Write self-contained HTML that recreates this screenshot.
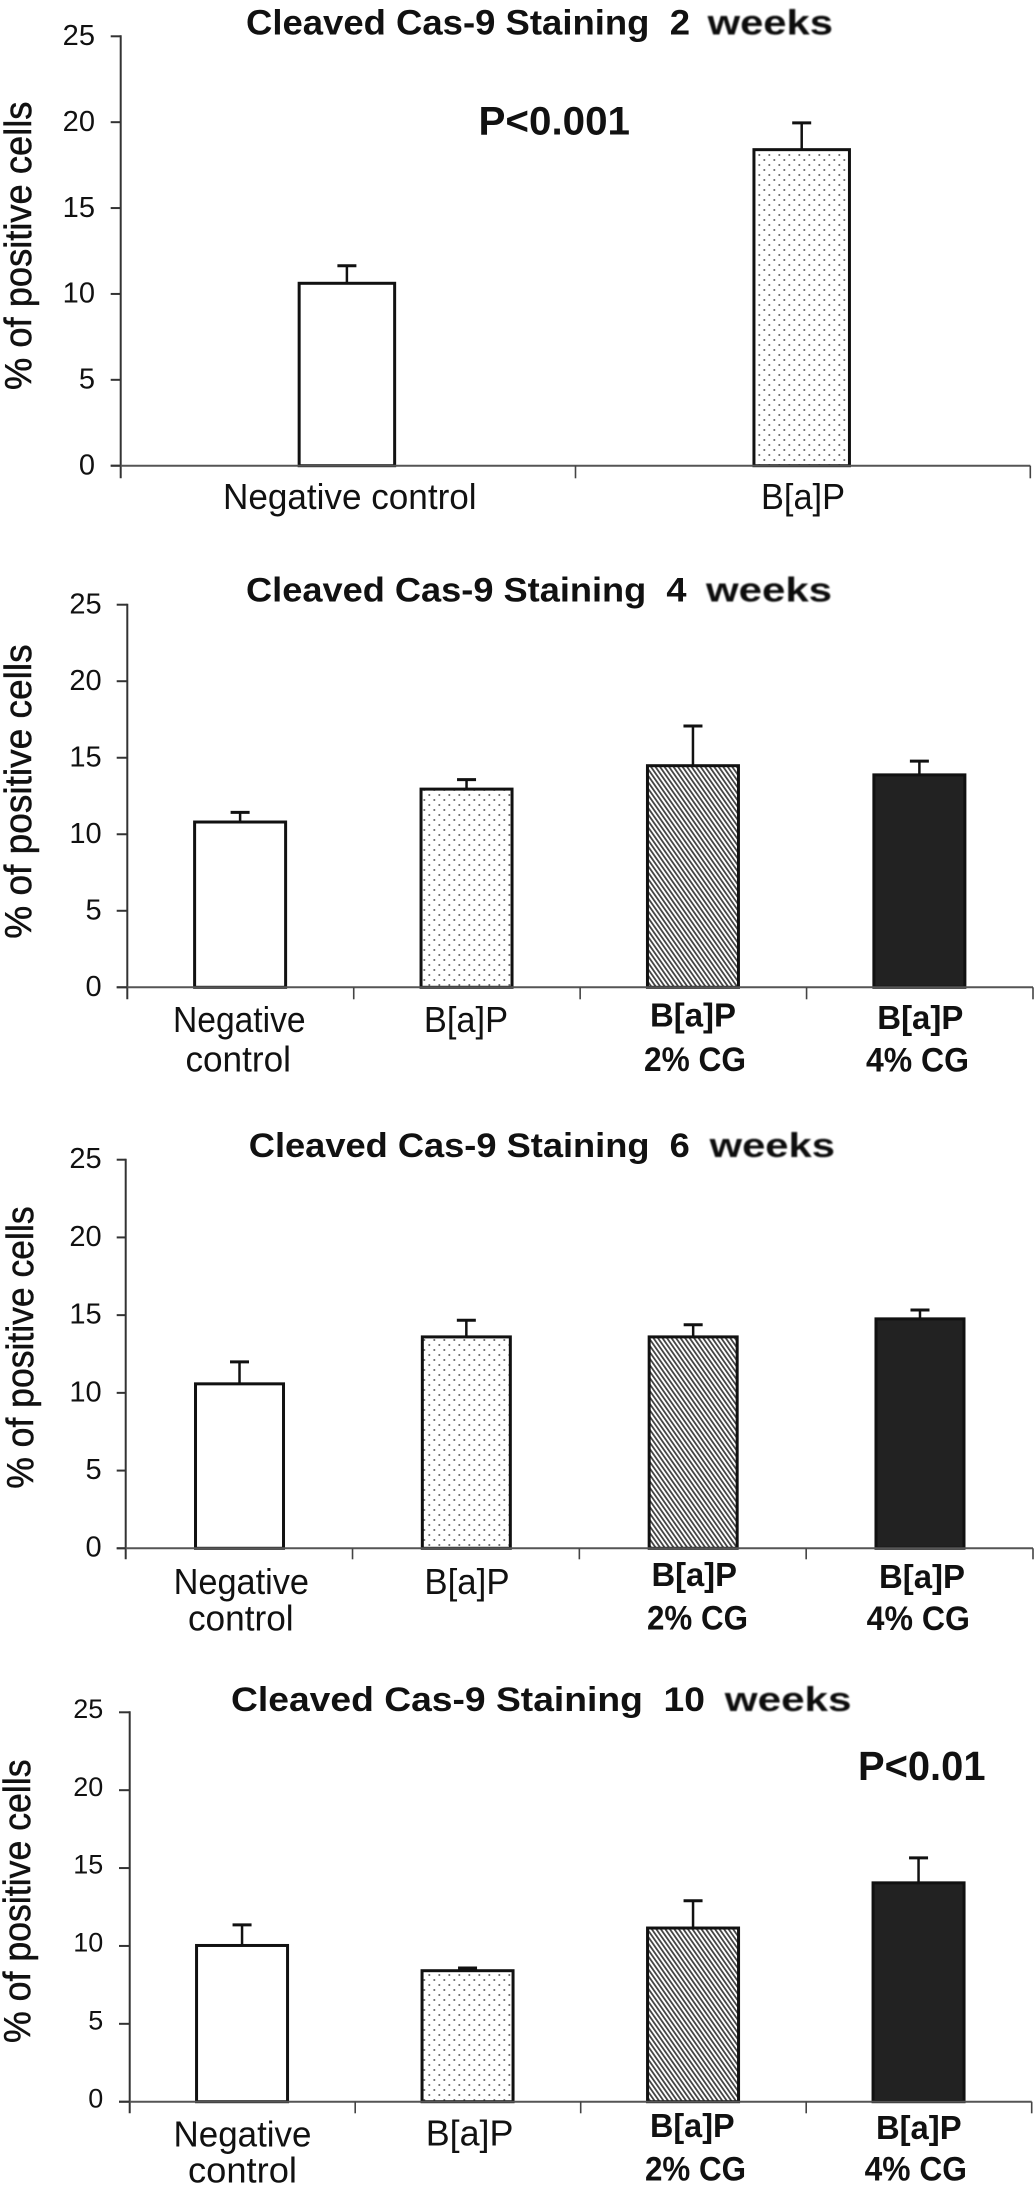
<!DOCTYPE html>
<html lang="en">
<head>
<meta charset="utf-8">
<title>Cleaved Cas-9 Staining</title>
<style>
html,body{margin:0;padding:0;background:#fff;width:1035px;height:2185px;overflow:hidden}
svg{display:block}
text{font-family:"Liberation Sans",Arial,sans-serif;fill:#111;white-space:pre}
</style>
</head>
<body>
<svg id="figure" xmlns="http://www.w3.org/2000/svg" width="1035" height="2185" viewBox="0 0 1035 2185">
<defs>
<pattern id="dots" patternUnits="userSpaceOnUse" width="10" height="10" x="429.3" y="795">
<rect x="-0.8" y="-0.8" width="1.6" height="1.6" fill="#444"/>
<rect x="9.2" y="-0.8" width="1.6" height="1.6" fill="#444"/>
<rect x="-0.8" y="9.2" width="1.6" height="1.6" fill="#444"/>
<rect x="9.2" y="9.2" width="1.6" height="1.6" fill="#444"/>
<rect x="4.2" y="4.2" width="1.6" height="1.6" fill="#444"/>
</pattern>
<pattern id="hatch" patternUnits="userSpaceOnUse" width="3.7" height="12" patternTransform="rotate(-35)">
<rect x="0" y="0" width="3.7" height="12" fill="#fff"/>
<rect x="0" y="0" width="1.8" height="12" fill="#444"/>
</pattern>
<filter id="soft" x="-5%" y="-20%" width="110%" height="140%"><feGaussianBlur stdDeviation="0.7"/></filter>
</defs>
</svg>
<script>
const yTickLabels = [0, 5, 10, 15, 20, 25];
const fills = ['#fff', 'url(#dots)', 'url(#hatch)', '#222'];

const categories2wk = ['Negative control', 'B[a]P'];
const means2wk = [10.62, 18.4];
const errorTops2wk = [11.64, 19.96];

const categories4wk = ['Negative control', 'B[a]P', 'B[a]P 2% CG', 'B[a]P 4% CG'];
const means4wk = [10.8, 12.95, 14.48, 13.88];
const errorTops4wk = [11.43, 13.57, 17.07, 14.78];

const categories6wk = ['Negative control', 'B[a]P', 'B[a]P 2% CG', 'B[a]P 4% CG'];
const means6wk = [10.58, 13.6, 13.6, 14.76];
const errorTops6wk = [11.99, 14.67, 14.38, 15.33];

const categories10wk = ['Negative control', 'B[a]P', 'B[a]P 2% CG', 'B[a]P 4% CG'];
const means10wk = [10.03, 8.41, 11.15, 14.05];
const errorTops10wk = [11.35, 8.58, 12.9, 15.65];

const panels = [
  {id: '2-weeks', cats: categories2wk, means: means2wk, tops: errorTops2wk,
   fillIdx: [0, 1], left: 120.7, right: 1030.3, y0: 465.7, y25: 36.3, tickBottom: 478.3, tickLeft: 110.7,
   barW: 98.5, barShift: -1.2, tickRight: 95, tickSize: 29, tickW: 32.3, tickBase: 8.8,
   titleA: 'Cleaved Cas-9 Staining  2', aX: 246, aW: 444, weeksX: 707.6, weeksW: 125.4, titleBase: 34.6, titleSize: 35,
   yTitleX: 31, yTitleY0: 101.6, yTitleY1: 390,
   lines: [
     {c: 0, t: 'Negative control', cx: 349.8, b: 509, w: 253.6, s: 36, bold: false},
     {c: 1, t: 'B[a]P', cx: 803, b: 509, w: 84, s: 36, bold: false}
   ],
   pLabel: {t: 'P<0.001', x: 478.5, b: 134.4, w: 151.5, s: 40}},
  {id: '4-weeks', cats: categories4wk, means: means4wk, tops: errorTops4wk,
   fillIdx: [0, 1, 2, 3], left: 127.3, right: 1033, y0: 987.3, y25: 604.7, tickBottom: 999.3, tickLeft: 116.7,
   barW: 94, barShift: -0.4, tickRight: 101.7, tickSize: 29, tickW: 32.3, tickBase: 8.6,
   titleA: 'Cleaved Cas-9 Staining  4', aX: 246, aW: 440.5, weeksX: 706, weeksW: 126, titleBase: 601.3, titleSize: 34,
   yTitleX: 31, yTitleY0: 644.4, yTitleY1: 938.8,
   lines: [
     {c: 0, t: 'Negative', cx: 239.3, b: 1031.8, w: 132.6, s: 36, bold: false},
     {c: 0, t: 'control', cx: 238.2, b: 1071.4, w: 105.5, s: 36, bold: false},
     {c: 1, t: 'B[a]P', cx: 466, b: 1031.8, w: 84.2, s: 36, bold: false},
     {c: 2, t: 'B[a]P', cx: 693, b: 1026.7, w: 86, s: 33, bold: true},
     {c: 2, t: '2% CG', cx: 695, b: 1071, w: 102, s: 34, bold: true},
     {c: 3, t: 'B[a]P', cx: 920.3, b: 1029, w: 86, s: 33, bold: true},
     {c: 3, t: '4% CG', cx: 917.5, b: 1071.7, w: 103, s: 34, bold: true}
   ]},
  {id: '6-weeks', cats: categories6wk, means: means6wk, tops: errorTops6wk,
   fillIdx: [0, 1, 2, 3], left: 125.7, right: 1033, y0: 1548.3, y25: 1159.7, tickBottom: 1559.3, tickLeft: 116.7,
   barW: 91, barShift: 0.4, tickRight: 101.7, tickSize: 29, tickW: 32.3, tickBase: 8.4,
   titleA: 'Cleaved Cas-9 Staining  6', aX: 248.8, aW: 441, weeksX: 709.6, weeksW: 125.4, titleBase: 1157.2, titleSize: 34,
   yTitleX: 33, yTitleY0: 1206.4, yTitleY1: 1488.8,
   lines: [
     {c: 0, t: 'Negative', cx: 241.3, b: 1593.8, w: 135.4, s: 36, bold: false},
     {c: 0, t: 'control', cx: 240.8, b: 1630.7, w: 105.7, s: 36, bold: false},
     {c: 1, t: 'B[a]P', cx: 467, b: 1593.8, w: 85.2, s: 36, bold: false},
     {c: 2, t: 'B[a]P', cx: 694.2, b: 1585.9, w: 85.5, s: 33, bold: true},
     {c: 2, t: '2% CG', cx: 697.5, b: 1629.3, w: 101, s: 34, bold: true},
     {c: 3, t: 'B[a]P', cx: 922, b: 1588, w: 86, s: 33, bold: true},
     {c: 3, t: '4% CG', cx: 918.3, b: 1630, w: 103.3, s: 34, bold: true}
   ]},
  {id: '10-weeks', cats: categories10wk, means: means10wk, tops: errorTops10wk,
   fillIdx: [0, 1, 2, 3], left: 129.7, right: 1031.7, y0: 2101.7, y25: 1712.3, tickBottom: 2113.3, tickLeft: 119,
   barW: 94, barShift: -0.4, tickRight: 103.3, tickSize: 26.5, tickW: 30, tickBase: 5.6,
   titleA: 'Cleaved Cas-9 Staining  10', aX: 231, aW: 474, weeksX: 724.8, weeksW: 126.7, titleBase: 1710.9, titleSize: 34,
   yTitleX: 30, yTitleY0: 1759.4, yTitleY1: 2043,
   lines: [
     {c: 0, t: 'Negative', cx: 242.5, b: 2146.4, w: 137.9, s: 36, bold: false},
     {c: 0, t: 'control', cx: 242.5, b: 2182.6, w: 109, s: 36, bold: false},
     {c: 1, t: 'B[a]P', cx: 469.6, b: 2145.7, w: 87.8, s: 36, bold: false},
     {c: 2, t: 'B[a]P', cx: 692.3, b: 2137, w: 84.6, s: 33, bold: true},
     {c: 2, t: '2% CG', cx: 695.5, b: 2180.6, w: 101, s: 34, bold: true},
     {c: 3, t: 'B[a]P', cx: 918.8, b: 2138.9, w: 85.7, s: 33, bold: true},
     {c: 3, t: '4% CG', cx: 915.8, b: 2180.6, w: 102.3, s: 34, bold: true}
   ],
   pLabel: {t: 'P<0.01', x: 858, b: 1780, w: 127.5, s: 41}}
];

const NS = 'http://www.w3.org/2000/svg';
const figure = document.getElementById('figure');

function svgEl(tag, parent, attrs) {
  const el = document.createElementNS(NS, tag);
  for (const k in attrs) el.setAttribute(k, attrs[k]);
  parent.appendChild(el);
  return el;
}
function textEl(parent, str, x, y, len, size, weight, anchor) {
  const el = svgEl('text', parent, {
    x: x, y: y, 'font-size': size, 'font-weight': weight, 'text-anchor': anchor,
    textLength: len, lengthAdjust: 'spacingAndGlyphs'
  });
  el.textContent = str;
  return el;
}
function lineEl(parent, x1, y1, x2, y2, color, width) {
  return svgEl('line', parent, {x1: x1, y1: y1, x2: x2, y2: y2, stroke: color, 'stroke-width': width});
}

panels.forEach(function (p) {
  const yScale = function (v) { return p.y0 - (v / 25) * (p.y0 - p.y25); };
  const band = (p.right - p.left) / p.cats.length;
  const xCenter = function (i) { return p.left + band * (i + 0.5) + p.barShift; };
  const xEdge = function (i) { return p.left + band * i; };

  const g = svgEl('g', figure, {});
  
  

  const titleMain = textEl(g, p.titleA, p.aX, p.titleBase, p.aW, p.titleSize, 'bold', 'start');
  
  

  const titleWeeks = textEl(g, 'weeks', p.weeksX, p.titleBase, p.weeksW, p.titleSize, 'bold', 'start');
  titleWeeks.setAttribute('filter', 'url(#soft)');
  
  

  const yMid = (p.yTitleY0 + p.yTitleY1) / 2;
  const yTitle = textEl(g, '% of positive cells', p.yTitleX, yMid, p.yTitleY1 - p.yTitleY0, 38, 'normal', 'middle');
  yTitle.setAttribute('transform', 'rotate(-90 ' + p.yTitleX + ' ' + yMid + ')');
  yTitle.setAttribute('stroke', '#111');
  yTitle.setAttribute('stroke-width', '0.5');
  
  

  p.cats.forEach(function (cat, i) {
    const cx = xCenter(i);
    const top = yScale(p.means[i]);
    const errY = yScale(p.tops[i]);
    const fill = fills[p.fillIdx[i]];

    const err = lineEl(g, cx, errY, cx, top, '#111', 2.5);
    
    

    const cap = lineEl(g, cx - 9.5, errY, cx + 9.5, errY, '#111', 3);
    
    

    const bar = svgEl('rect', g, {
      x: cx - p.barW / 2 + 1.5, y: top, width: p.barW - 3, height: Math.max(0, p.y0 - top),
      fill: fill, stroke: '#111', 'stroke-width': 3
    });
    
    
  });

  const yAxis = lineEl(g, p.left, p.y25 - 1, p.left, p.tickBottom, '#333', 2);
  
  

  const xAxis = lineEl(g, p.tickLeft, p.y0, p.right, p.y0, '#555', 2);
  
  

  yTickLabels.forEach(function (v) {
    const y = yScale(v);
    const tick = lineEl(g, p.tickLeft, y, p.left, y, '#333', 2);
    
    

    const label = String(v);
    const w = label.length === 2 ? p.tickW : p.tickW / 2;
    const t = textEl(g, label, p.tickRight, y + p.tickBase, w, p.tickSize, 'normal', 'end');
    
    
  });

  for (let i = 1; i <= p.cats.length; i++) {
    const xt = lineEl(g, xEdge(i), p.y0, xEdge(i), p.tickBottom, '#444', 1.6);
    
    
  }

  p.lines.forEach(function (l) {
    const t = textEl(g, l.t, l.cx, l.b, l.w, l.s, l.bold ? 'bold' : 'normal', 'middle');
    
    
  });

  if (p.pLabel) {
    const t = textEl(g, p.pLabel.t, p.pLabel.x, p.pLabel.b, p.pLabel.w, p.pLabel.s, 'bold', 'start');
    
    
  }
});
</script>
</body>
</html>
